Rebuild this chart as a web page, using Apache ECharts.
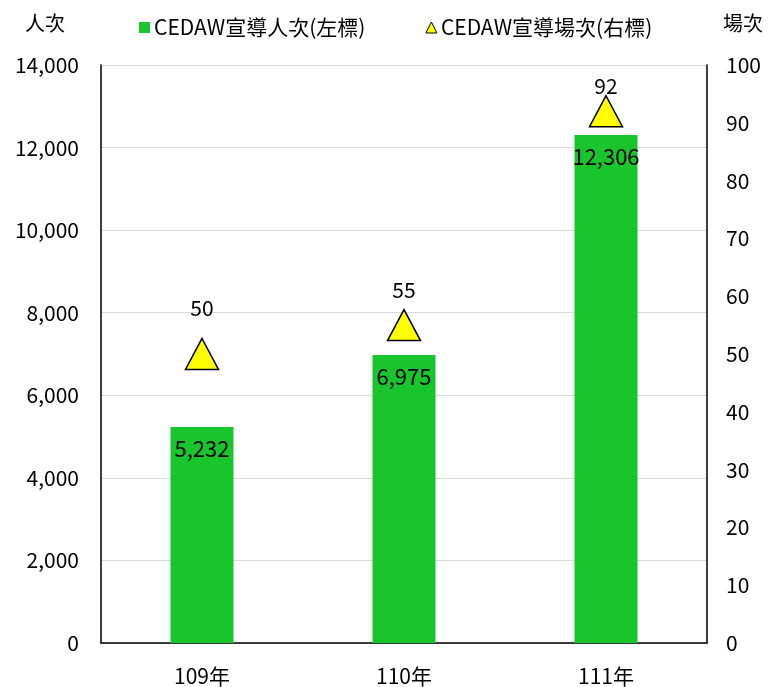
<!DOCTYPE html>
<html><head><meta charset="utf-8">
<script src="https://cdn.jsdelivr.net/npm/echarts@6/dist/echarts.min.js"></script>
<style>html,body{margin:0;padding:0;background:#fff}#c{width:769px;height:687px}</style>
</head><body><div id="c"></div>
<script>
const categories = ['109年', '110年', '111年'];
const peopleValues = [5232, 6975, 12306];
const sessionValues = [50, 55, 92];
const leftTicks = [0, 2000, 4000, 6000, 8000, 10000, 12000, 14000];
const rightTicks = [0, 10, 20, 30, 40, 50, 60, 70, 80, 90, 100];

const FONT = '"Noto Sans CJK TC", "Noto Sans", sans-serif';
const labelDist = [19, 8, -2];
const chart = echarts.init(document.getElementById('c'));
chart.setOption({
  animation: false,
  textStyle: { fontFamily: FONT },
  grid: { left: 101, right: 62, top: 65, bottom: 44 },
  legend: {
    top: 12, left: 134, itemGap: 60, itemWidth: 11, itemHeight: 11,
    textStyle: { fontSize: 21, color: '#000', fontFamily: FONT, padding: [0, 0, 0, -1] },
    data: [
      { name: 'CEDAW宣導人次(左標)', icon: 'rect' },
      { name: 'CEDAW宣導場次(右標)', icon: 'triangle', itemStyle: { borderColor: '#000', borderWidth: 1 } }
    ]
  },
  xAxis: {
    type: 'category', data: categories,
    axisLine: { lineStyle: { color: '#000', width: 1.5 } },
    axisTick: { show: false },
    axisLabel: { fontSize: 21, color: '#000', margin: 23, fontFamily: FONT }
  },
  yAxis: [
    {
      type: 'value', min: leftTicks[0], max: leftTicks[leftTicks.length - 1], interval: 2000,
      name: '人次', nameLocation: 'end', nameGap: 32,
      nameTextStyle: { fontSize: 20, color: '#000', align: 'right', padding: [0, 36, 0, 0], fontFamily: FONT },
      axisLine: { show: true, lineStyle: { color: '#000', width: 1.5 } },
      axisTick: { show: false },
      splitLine: { lineStyle: { color: '#d9d9d9', width: 1 } },
      axisLabel: { fontSize: 21, color: '#000', margin: 22, fontFamily: FONT,
        formatter: v => v.toLocaleString('en-US') }
    },
    {
      type: 'value', min: rightTicks[0], max: rightTicks[rightTicks.length - 1], interval: 10,
      name: '場次', nameLocation: 'end', nameGap: 32,
      nameTextStyle: { fontSize: 20, color: '#000', align: 'left', padding: [0, 0, 0, 16], fontFamily: FONT },
      axisLine: { show: true, lineStyle: { color: '#000', width: 1.5 } },
      axisTick: { show: false },
      splitLine: { show: false },
      axisLabel: { fontSize: 21, color: '#000', margin: 19, fontFamily: FONT }
    }
  ],
  series: [
    {
      name: 'CEDAW宣導人次(左標)', type: 'bar', data: peopleValues, barWidth: 63,
      itemStyle: { color: '#19c52d' },
      label: { show: true, position: 'insideTop', distance: 11, fontSize: 22, color: '#000', fontFamily: FONT,
        formatter: p => p.value.toLocaleString('en-US') }
    },
    {
      name: 'CEDAW宣導場次(右標)', type: 'scatter', yAxisIndex: 1,
      data: sessionValues.map((v, i) => ({ value: v, label: { distance: labelDist[i] } })),
      symbol: 'triangle', symbolSize: [33, 31], z: 5,
      itemStyle: { color: '#ffff00', borderColor: '#000', borderWidth: 1.5, opacity: 1 },
      label: { show: true, position: 'top', fontSize: 21, color: '#000', fontFamily: FONT }
    }
  ]
});
</script></body></html>
